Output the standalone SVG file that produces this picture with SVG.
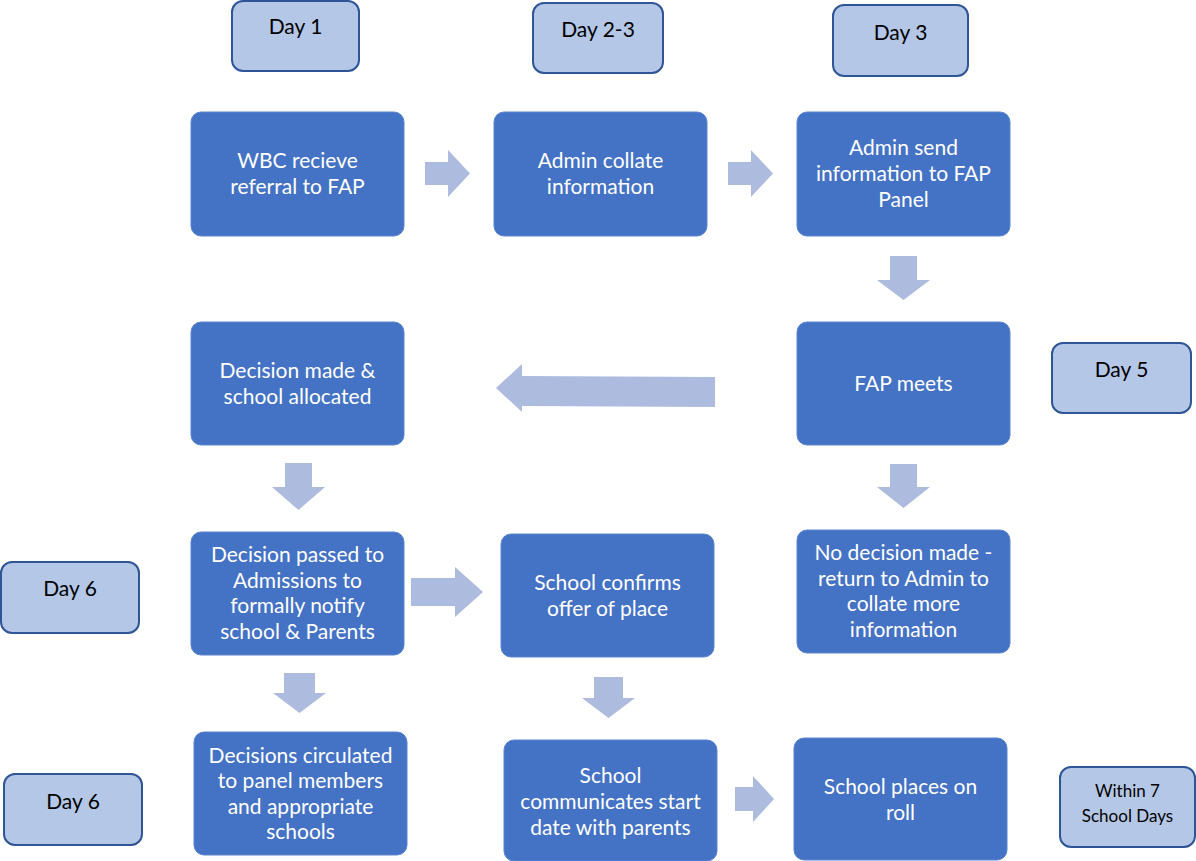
<svg xmlns="http://www.w3.org/2000/svg" width="1196" height="861" viewBox="0 0 1196 861">
<style>
.n{fill:#4472C4;stroke:#5A85CF;stroke-width:1}
.d{fill:#B4C7E7;stroke:#2F5597;stroke-width:2}
.nt{font-family:Lato,"Open Sans","Liberation Sans",sans-serif;font-size:21px;fill:#fff;text-anchor:middle}
.dt{font-family:Lato,"Open Sans","Liberation Sans",sans-serif;font-size:21px;fill:#000;text-anchor:middle}
.st{font-size:17px}
.a{fill:#ADBBDE}
</style>
<rect width="1196" height="861" fill="#fff"/>
<g id="connectors">
<polygon class="a" points="425,162 448,162 448,150 470,173.5 448,197 448,185 425,185"/>
<polygon class="a" points="728,162 751,162 751,150 773,173.5 751,197 751,185 728,185"/>
<polygon class="a" points="890,256 917,256 917,280 930,280 903.5,300 877,280 890,280"/>
<polygon class="a" points="715,377 522,376 522,364 496,388 522,412 522,406 715,407"/>
<polygon class="a" points="890,464 917,464 917,487 930,487 903.5,508 877,487 890,487"/>
<polygon class="a" points="285,463 312,463 312,487 325,487 298.5,510 272,487 285,487"/>
<polygon class="a" points="411,578 455,578 455,567 483,592 455,617 455,606 411,606"/>
<polygon class="a" points="284,673 315,673 315,693 326,693 299.5,713 273,693 284,693"/>
<polygon class="a" points="594,677 623,677 623,698 635,698 608.5,718 582,698 594,698"/>
<polygon class="a" points="735,787 753,787 753,776 774,799 753,822 753,811 735,811"/>
</g>
<g id="day1"><rect class="d" x="232" y="1" width="127" height="70" rx="11"/><text class="dt" x="295.5" y="34">Day 1</text></g>
<g id="day23"><rect class="d" x="533" y="3" width="130" height="70" rx="11"/><text class="dt" x="598" y="37">Day 2-3</text></g>
<g id="day3"><rect class="d" x="833" y="5" width="135" height="71" rx="11"/><text class="dt" x="900.5" y="40">Day 3</text></g>
<g id="day5"><rect class="d" x="1052" y="343" width="139" height="70" rx="11"/><text class="dt" x="1121.5" y="377">Day 5</text></g>
<g id="day6a"><rect class="d" x="1" y="562" width="138" height="71" rx="11"/><text class="dt" x="70" y="596">Day 6</text></g>
<g id="day6b"><rect class="d" x="4" y="774" width="138" height="71" rx="11"/><text class="dt" x="73" y="809">Day 6</text></g>
<g id="within7"><rect class="d" x="1060" y="767" width="135" height="80" rx="11"/><text class="dt st" x="1127.5" y="797">Within 7</text><text class="dt st" x="1127.5" y="822">School Days</text></g>
<g id="wbc"><rect class="n" x="191" y="112" width="213" height="124" rx="10"/><text class="nt" x="297.5" y="168">WBC recieve</text><text class="nt" x="297.5" y="194">referral to FAP</text></g>
<g id="collate"><rect class="n" x="494" y="112" width="213" height="124" rx="10"/><text class="nt" x="600.5" y="168">Admin collate</text><text class="nt" x="600.5" y="194">information</text></g>
<g id="send"><rect class="n" x="797" y="112" width="213" height="124" rx="10"/><text class="nt" x="903.5" y="155">Admin send</text><text class="nt" x="903.5" y="181">information to FAP</text><text class="nt" x="903.5" y="207">Panel</text></g>
<g id="fap"><rect class="n" x="797" y="322" width="213" height="123" rx="10"/><text class="nt" x="903.5" y="391">FAP meets</text></g>
<g id="decision"><rect class="n" x="191" y="322" width="213" height="123" rx="10"/><text class="nt" x="297.5" y="378">Decision made &amp;</text><text class="nt" x="297.5" y="404">school allocated</text></g>
<g id="nodecision"><rect class="n" x="797" y="530" width="213" height="123" rx="10"/><text class="nt" x="903.5" y="560">No decision made -</text><text class="nt" x="903.5" y="586">return to Admin to</text><text class="nt" x="903.5" y="611">collate more</text><text class="nt" x="903.5" y="637">information</text></g>
<g id="passed"><rect class="n" x="191" y="532" width="213" height="123" rx="10"/><text class="nt" x="297.5" y="562">Decision passed to</text><text class="nt" x="297.5" y="588">Admissions to</text><text class="nt" x="297.5" y="613">formally notify</text><text class="nt" x="297.5" y="639">school &amp; Parents</text></g>
<g id="confirms"><rect class="n" x="501" y="534" width="213" height="123" rx="10"/><text class="nt" x="607.5" y="590">School confirms</text><text class="nt" x="607.5" y="616">offer of place</text></g>
<g id="circulated"><rect class="n" x="194" y="732" width="213" height="123" rx="10"/><text class="nt" x="300.5" y="763">Decisions circulated</text><text class="nt" x="300.5" y="788">to panel members</text><text class="nt" x="300.5" y="814">and appropriate</text><text class="nt" x="300.5" y="839">schools</text></g>
<g id="communicates"><rect class="n" x="504" y="740" width="213" height="121" rx="10"/><text class="nt" x="610.5" y="783">School</text><text class="nt" x="610.5" y="809">communicates start</text><text class="nt" x="610.5" y="835">date with parents</text></g>
<g id="roll"><rect class="n" x="794" y="738" width="213" height="122" rx="10"/><text class="nt" x="900.5" y="794">School places on</text><text class="nt" x="900.5" y="820">roll</text></g>
</svg>
